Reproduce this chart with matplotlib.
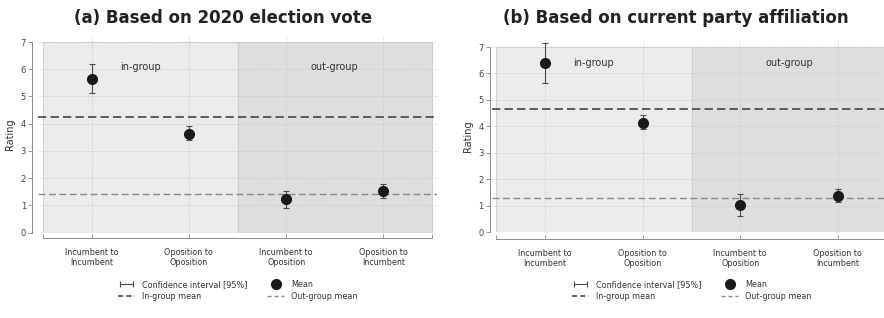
import matplotlib
matplotlib.use("Agg")
from matplotlib import pyplot as plt
from matplotlib.lines import Line2D
from matplotlib.legend_handler import HandlerLine2D

categories = ["Incumbent to\nIncumbent", "Oposition to\nOposition",
              "Incumbent to\nOposition", "Oposition to\nIncumbent"]
titles = ["(a) Based on 2020 election vote", "(b) Based on current party affiliation"]

# panel (a): 2020 vote
mean_a = [5.66, 3.64, 1.22, 1.53]
lo_a = [5.12, 3.41, 0.92, 1.27]
hi_a = [6.19, 3.90, 1.54, 1.78]
ingroup_a, outgroup_a = 4.23, 1.43

# panel (b): current affiliation
mean_b = [6.40, 4.14, 1.02, 1.37]
lo_b = [5.65, 3.89, 0.60, 1.13]
hi_b = [7.15, 4.42, 1.45, 1.63]
ingroup_b, outgroup_b = 4.64, 1.31

W, H = 884, 318


def px_axes(fig, left, right, bottom, top):
    return fig.add_axes([left / W, (H - bottom) / H, (right - left) / W, (bottom - top) / H])


def draw_panel(ax, mean, lo, hi, ing, outg, label_y, left_off, bottom_off, leg_y):
    x = list(range(1, len(categories) + 1))
    ax.axvspan(0.5, 2.5, ymin=0, ymax=7 / 7.25, facecolor="#ebebeb",
               edgecolor="#d4d4d4", lw=0.8, zorder=0)
    ax.axvspan(2.5, 4.5, ymin=0, ymax=7 / 7.25, facecolor="#dedede",
               edgecolor="#cfcfcf", lw=0.8, zorder=0)
    ax.set_axisbelow(True)
    ax.grid(True, ls=(0, (1, 1.5)), color="#c4c4c4", lw=0.6)

    ax.axhline(ing, color="#454545", ls=(0, (5, 2.5)), lw=1.2, zorder=2)
    ax.axhline(outg, color="#8a8a8a", ls=(0, (5, 2.5)), lw=1.0, zorder=2)

    yerr = [[m - l for m, l in zip(mean, lo)], [h - m for m, h in zip(mean, hi)]]
    ax.errorbar(x, mean, yerr=yerr, fmt="o", ms=7, color="#1a1a1a",
                ecolor="#4a4a4a", elinewidth=0.8, capsize=2, capthick=0.8, zorder=3)

    ax.text(1.5, label_y, "in-group", ha="center", va="center", fontsize=7, color="#333333")
    ax.text(3.5, label_y, "out-group", ha="center", va="center", fontsize=7, color="#333333")

    ax.set_xlim(0.45, 4.55)
    ax.set_ylim(0, 7.25)
    ax.set_yticks(range(0, 8))
    ax.set_xticks(x)
    ax.set_xticklabels(categories, linespacing=0.9)
    ax.set_xticks([0.5, 4.5], minor=True)
    ax.tick_params(axis="y", labelsize=6, colors="#888888", labelcolor="#444444",
                   length=3, width=0.6, pad=1.5)
    ax.tick_params(axis="x", which="both", direction="in", length=3, width=0.6,
                   colors="#888888", labelcolor="#333333", labelsize=5.8, pad=7)
    for side in ["top", "right"]:
        ax.spines[side].set_visible(False)
    ax.spines["left"].set_position(("outward", left_off))
    ax.spines["left"].set_bounds(0, 7)
    ax.spines["bottom"].set_position(("outward", bottom_off))
    ax.spines["bottom"].set_bounds(0.5, 4.5)
    for side in ["left", "bottom"]:
        ax.spines[side].set_color("#8a8a8a")
        ax.spines[side].set_linewidth(0.7)
    ax.set_ylabel("Rating", fontsize=7, color="#333333", labelpad=4)

    ci = Line2D([0], [0], color="#4a4a4a", lw=0.8, marker="|", ms=4, mew=0.8)
    dot = Line2D([0], [0], color="#1a1a1a", ls="none", marker="o", ms=7)
    ingl = Line2D([0], [0], color="#454545", ls=(0, (3, 2)), lw=1.2)
    outl = Line2D([0], [0], color="#8a8a8a", ls=(0, (3, 2)), lw=1.0)
    ax.legend([ci, ingl, dot, outl],
              ["Confidence interval [95%]", "In-group mean", "Mean", "Out-group mean"],
              ncol=2, loc="upper center", bbox_to_anchor=(0.5, leg_y), frameon=False,
              fontsize=5.8, handlelength=2.2, handletextpad=0.8, columnspacing=2.4,
              labelspacing=0.3, borderaxespad=0, borderpad=0,
              handler_map={ci: HandlerLine2D(numpoints=2)},
              labelcolor="#333333")


fig = plt.figure(figsize=(W / 100, H / 100), dpi=100)

ax_a = px_axes(fig, 38.1, 436.9, 232.7, 35.2)
draw_panel(ax_a, mean_a, lo_a, hi_a, ingroup_a, outgroup_a, 6.08, 4.2, 4.0, -0.24)

ax_b = px_axes(fig, 491.6, 891.4, 232.3, 40.4)
draw_panel(ax_b, mean_b, lo_b, hi_b, ingroup_b, outgroup_b, 6.4, 1.2, 5.0, -0.25)

fig.text(223 / W, 1 - 18 / H, titles[0], ha="center", va="center",
         fontsize=12, fontweight="bold", color="#222222")
fig.text(676 / W, 1 - 18 / H, titles[1], ha="center", va="center",
         fontsize=12, fontweight="bold", color="#222222")

fig.savefig("out.png", dpi=100)
